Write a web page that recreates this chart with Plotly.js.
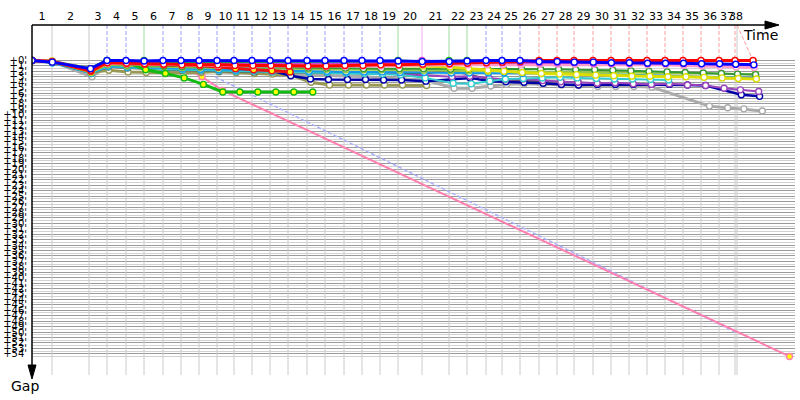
<!DOCTYPE html>
<html><head><meta charset="utf-8">
<script src="https://cdn.plot.ly/plotly-3.0.1.min.js"></script>
<style>html,body{margin:0;padding:0;background:#fff}#chart{width:800px;height:400px}</style>
</head><body><div id="chart"></div>
<script>
// ---------- DATA ----------
const laps = [1,2,3,4,5,6,7,8,9,10,11,12,13,14,15,16,17,18,19,20,21,22,23,24,25,26,27,28,29,30,31,32,33,34,35,36,37,38];
// leader's cumulative time (s) at lap 0..38
const leaderTime = [0,20,57,75,94,112,131,149,167,185,202,220,238,256,275,293,312,330,348,366,390,417,435,454,470,488,507,525,542,561,579,597,615,633,651,669,687,703,721];
// time mark of the last lap on the time axis
const finishMarkTime = 705;
// leader group for laps 1..38
const lapLeader = ['gray','gray','blue','blue','green','blue','blue','blue','blue','blue','blue','blue','blue','blue','blue','blue','blue','blue','green','violet','green','green','blue','blue','blue','red','red','red','red','red','red','red','red','red','red','red','red','red'];

// gaps (s) to leader, lap 0..n
const gapBlue   = [0,0.3,1.5,0,0,0.1,0,0,0,0,0,0,0,0,0,0,0,0,0,0.1,0.2,0.2,0.1,0,0,0,0.2,0.2,0.3,0.3,0.4,0.4,0.5,0.5,0.5,0.6,0.6,0.7,0.8];
const gapRed    = [0,0.2,1.8,0.4,0.5,0.6,0.7,0.8,0.8,0.8,0.9,0.9,0.9,1.0,1.0,1.0,0.9,0.9,0.8,0.8,0.7,0.6,0.5,0.4,0.3,0.2,0,0,0,0,0,0,0,0,0,0,0,0,0];
const gapGreen  = [0,0.2,1.6,0.2,0.3,0,0.3,0.3,0.3,0.3,0.3,0.3,0.3,0.3,0.3,0.3,0.2,0.2,0.1,0,0.2,0,0,0.1,0.1,0.1,0.1,0.1,0.1,0.1,0.1,0.1,0.1,0.1,0.1,0.1,0.1,0.1,0.1];
const gapViolet = [0,0.2,1.6,0.3,0.3,0.4,0.4,0.4,0.5,0.5,0.5,0.6,0.6,0.6,0.6,0.6,0.6,0.5,0.4,0.3,0,0.3,0.4,0.4,0.4,0.4,0.4,0.4,0.4,0.5,0.5,0.5,0.5,0.5,0.6,0.6,0.6,0.7,0.8];
const gapPink   = [0,0.2,1.6,0.5,0.6,0.6,0.7,0.8,0.8,0.9,0.9,1.0,1.0,1.0,1.1,1.1,1.1,1.0,1.0,0.9,0.8,0.8,0.8,0.8,0.8,0.8,0.7,0.7,0.7,0.7,0.7,0.7,0.8,0.8,0.9,1.0,1.1,1.2,1.3];
const gapRed2   = [0,0.2,2.0,0.4,0.6,0.7,0.8,0.8,0.9,1.2,1.5,1.7,1.9,2.1];
const gapGreen3 = [0,0.2,1.5,0,0.3,1.7,2.4,3.2,4.4,5.8,5.8,5.8,5.8,5.8,5.8];
const gapYellow = [0,0.1,2.1,0.5,0.6,0.7,0.7,0.8,0.8,0.8,0.8,0.8,0.8,0.8,0.8,0.8,0.8,0.8,0.9,0.9,1.0,1.2,1.5,1.8,2.0,2.2,2.4,2.5,2.6,2.7,2.8,2.9,2.9,3.0,3.0,3.1,3.2,3.3,3.4];
const gapGreen2 = [0,0.3,2.0,0.6,0.8,0.9,1.0,1.1,1.1,1.2,1.2,1.3,1.3,1.3,1.4,1.4,1.4,1.5,1.5,1.5,1.5,1.6,1.6,1.6,1.6,1.6,1.6,1.6,1.7,1.7,1.8,1.9,2.0,2.1,2.2,2.3,2.4,2.5,2.6];
const gapLime   = [0,0.3,2.2,0.8,1.0,1.1,1.2,1.3,1.3,1.4,1.4,1.5,1.5,1.5,1.6,1.6,1.7,1.7,1.7,1.8,1.8,1.9,1.9,2.0,2.0,2.0,2.1,2.1,2.1,2.2,2.2,2.2,2.3,2.3,2.3,2.4,2.4,2.5,2.5];
const gapSky    = [0,0.4,2.3,1.0,1.2,1.3,1.4,1.5,1.6,1.7,1.8,1.8,1.9,1.9,2.0,2.0,2.1,2.1,2.1,2.2,2.2,2.3,2.3,2.3,2.3,2.4,2.4,2.4,2.4,2.5,2.5,2.6,2.7,2.8,2.9,3.0,3.1,3.1,3.2];
const gapTeal   = [0,0.4,2.4,1.1,1.3,1.5,1.6,1.7,1.8,1.9,2.0,2.0,2.1,2.1,2.2,2.2,2.3,2.4,2.5,2.6,3.2,4.2,4.3,3.8,3.4,3.3,3.2,3.1,3.2,3.3,3.4,3.4,3.5,3.6];
const gapPurple = [0,0.3,2.1,0.8,1.0,1.2,1.1,1.3,1.5,1.4,1.6,1.8,1.7,1.9,2.1,2.0,2.2,2.4,2.3,2.6,2.7,3.0,2.9,3.3,3.5,3.4,3.7,3.9,4.0,4.2,4.1,4.3,4.4,4.3,4.5,4.6,5.1,5.4,5.7];
const gapNavy   = [0,0.3,2.0,0.3,0.5,0.6,0.7,0.8,0.9,1.0,1.2,1.6,1.9,2.8,3.4,3.5,3.5,3.5,3.6,3.6,3.8,3.4,3.2,3.8,3.9,4.0,4.2,4.4,4.5,4.4,4.4,4.4,4.4,4.4,4.5,4.6,null,6.3,6.6];
const gapDark   = [0,0.3,2.4,1.2,1.4,1.6,1.7,1.8,1.9,2.0,2.0,2.1,2.1,2.2,2.2,2.3,2.3,2.4,2.4,2.5,2.4,1.9,2.6,3.5,3.6,3.7,3.8,3.9,4.0];
const gapOlive  = [0,0.3,2.2,1.8,2.1,2.2,2.2,2.3,2.2,2.0,2.2,2.4,2.5,2.7,4.0,4.5,4.5,4.5,4.5,4.5,4.6];
const gapGray   = [0,0.2,3.0,0.9,1.2,1.4,1.6,1.8,2.0,2.1,2.2,2.3,2.4,2.5,2.6,2.7,2.8,3.0,3.2,3.4,3.6,5.1,5.1,4.7,4.4,4.3,4.4,4.5,4.6,4.8,4.8,4.8,4.9,null,null,8.4,8.7,8.9,9.3];
const gapPinkEarly = [0,0.1,1.8,0.8,0.9,1.0,1.0,1.2,3.0,5.5];
const pinkLastLap = 37, pinkLastGap = 54.5;
// dashed reference line near the retiring car
const refTime = [183, 703], refGap = [3, 50];

// ---------- BUILD ----------
const yTop = -6.54, yBottom = 57.92;
const lapAxisTime = leaderTime.slice(0, 38).concat([finishMarkTime]);
const labelPos = laps.map(k => (lapAxisTime[k-1] + lapAxisTime[k]) / 2);
const gapTicks = [], gapLabels = [], halfTicks = [];
for (let i = 0; i <= 54; i++) { gapTicks.push(i); gapLabels.push('+' + i + "'"); halfTicks.push(i + 0.5); }

const traces = [];
// vertical lap lines below the leader
(function(){
  const x = [], y = [];
  laps.forEach(k => {
    const start = lapAxisTime[k] === leaderTime[k] ? 0 : yTop;
    x.push(lapAxisTime[k], lapAxisTime[k], null); y.push(start, yBottom, null);
  });
  traces.push({x, y, mode:'lines', line:{color:'#cacaca', width:1}, hoverinfo:'skip'});
})();
// lap marks above the leader
const segStyle = {
  gray:{color:'#c8c8c8', dash:'solid'}, blue:{color:'#9c9cff', dash:'4px,2px'},
  green:{color:'#9ddc9d', dash:'solid'}, violet:{color:'#f0a8f0', dash:'solid'},
  red:{color:'#ff9c9c', dash:'4px,2px'}
};
Object.keys(segStyle).forEach(g => {
  const x = [], y = [];
  laps.forEach((k, i) => {
    if (lapLeader[i] === g) { x.push(lapAxisTime[k], leaderTime[k], null); y.push(yTop, 0, null); }
  });
  traces.push({x, y, mode:'lines', line:{color:segStyle[g].color, width:1, dash:segStyle[g].dash}, hoverinfo:'skip'});
});
// reference dashed
traces.push({x: refTime, y: refGap, mode:'lines', line:{color:'#aab0ff', width:1.5, dash:'4px,2px'}, hoverinfo:'skip'});

function car(gaps, color, width, fill, lapsIdx) {
  const x = [], y = [];
  gaps.forEach((g, i) => {
    const k = lapsIdx ? lapsIdx[i] : i;
    if (g === null) { x.push(null); y.push(null); }
    else { x.push(leaderTime[k] + g); y.push(g); }
  });
  traces.push({x, y, mode:'lines+markers', connectgaps:true,
    line:{color, width}, marker:{size:6, color:fill, line:{color, width:1.4}}, hoverinfo:'skip'});
}
// retiring pink car
car(gapPinkEarly.concat([pinkLastGap]), '#ff80b0', 2, '#ffff00',
    gapPinkEarly.map((g, i) => i).concat([pinkLastLap]));
car(gapGray,   '#aaaaaa', 3, '#ffffff');
car(gapOlive,  '#999955', 3, '#ffffff');
car(gapDark,   '#555555', 2, '#ffffff');
car(gapNavy,   '#0000aa', 2.5, '#ffffff');
car(gapPurple, '#9944bb', 2, '#ffffff');
car(gapTeal,   '#33cccc', 2, '#ffffff');
car(gapSky,    '#1199ee', 2, '#ffffff');
car(gapLime,   '#99cc44', 2, '#ffffff');
car(gapGreen2, '#339933', 2, '#ffffff');
car(gapYellow, '#dddd00', 3, '#ffffff');
car(gapGreen3, '#11bb11', 3, '#ffff00');
car(gapRed2,   '#ee1111', 3, '#ffff00');
car(gapPink,   '#ff99cc', 3, '#ffffff');
car(gapViolet, '#cc44dd', 2, '#ffffff');
car(gapGreen,  '#22bb22', 2, '#ffffff');
car(gapRed,    '#ff0000', 3, '#ffffff');
car(gapBlue,   '#0000ff', 3, '#ffffff');

const W = 763, H = 350;
const px = v => (v - 32) / W, py = v => (375 - v) / H;
const layout = {
  width:800, height:400, margin:{l:32, r:5, t:25, b:25, pad:0},
  paper_bgcolor:'#ffffff', plot_bgcolor:'#ffffff', showlegend:false,
  font:{family:'DejaVu Sans, sans-serif', color:'#000000'},
  xaxis:{range:[0, 763], side:'top', tickmode:'array', tickvals:labelPos, ticktext:laps.map(String), tickangle:0,
    showgrid:false, zeroline:false, showline:false, ticks:'', ticklabelstandoff:2, tickfont:{size:11, color:'#000'}, fixedrange:true},
  yaxis:{range:[yBottom, yTop], tickmode:'array', tickvals:gapTicks, ticktext:gapLabels,
    showgrid:true, gridcolor:'#9a9a9a', gridwidth:1,
    minor:{tickmode:'array', tickvals:halfTicks, showgrid:true, gridcolor:'#d2d2d2', gridwidth:1, ticks:''},
    zeroline:false, showline:false, ticks:'', ticklabelstandoff:4, tickfont:{size:10, color:'#000'}, fixedrange:true},
  shapes:[
    {type:'rect', xref:'x', yref:'paper', x0:738, x1:763, y0:0, y1:1, fillcolor:'#ffffff', line:{width:0}, layer:'between'},
    {type:'line', xref:'paper', yref:'paper', x0:0, x1:px(766), y0:1, y1:1, line:{color:'#000', width:1.5}},
    {type:'path', xref:'paper', yref:'paper', path:`M ${px(765)},${py(21)} L ${px(779)},${py(25)} L ${px(765)},${py(29)} Z`, fillcolor:'#000', line:{color:'#000', width:1}},
    {type:'line', xref:'paper', yref:'paper', x0:0, x1:0, y0:1, y1:py(366), line:{color:'#000', width:1.5}},
    {type:'path', xref:'paper', yref:'paper', path:`M ${px(28)},${py(365)} L ${px(32)},${py(379)} L ${px(36)},${py(365)} Z`, fillcolor:'#000', line:{color:'#000', width:1}}
  ],
  annotations:[
    {text:'Time', xref:'paper', yref:'paper', x:px(760), y:py(35), xanchor:'center', yanchor:'middle', showarrow:false, font:{size:14, color:'#000'}},
    {text:'Gap', xref:'paper', yref:'paper', x:px(25), y:py(386), xanchor:'center', yanchor:'middle', showarrow:false, font:{size:14, color:'#000'}}
  ]
};
Plotly.newPlot('chart', traces, layout, {displayModeBar:false, staticPlot:true});
</script></body></html>
